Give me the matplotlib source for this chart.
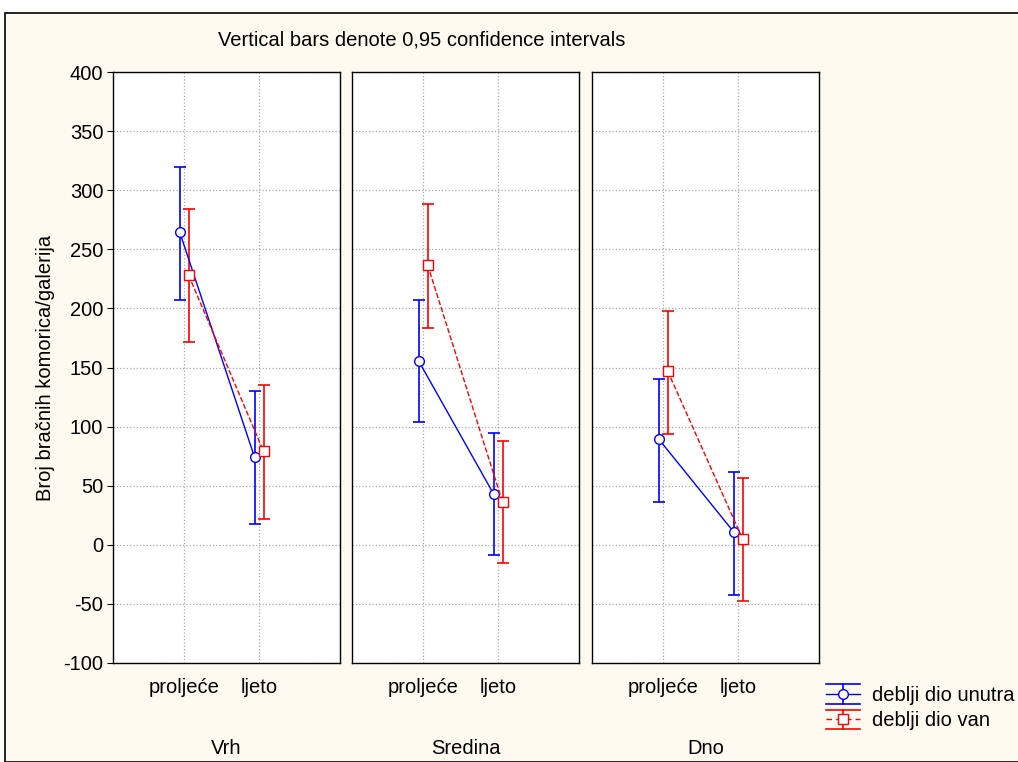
import matplotlib.pyplot as plt
from matplotlib.patches import Rectangle
from matplotlib.lines import Line2D
from matplotlib.legend_handler import HandlerBase
import numpy as np

plt.rcParams['font.family'] = ['Liberation Sans', 'DejaVu Sans']
plt.rcParams['axes.unicode_minus'] = False

categories = ['proljeće', 'ljeto']
groups = ['Vrh', 'Sredina', 'Dno']
series = ['deblji dio unutra', 'deblji dio van']

# means and 0.95 CI bounds, per group: [proljece, ljeto]
unutra_mean = [[264.6, 74.0], [155.5, 43.0], [89.5, 11.0]]
unutra_low = [[207.0, 17.6], [104.0, -8.6], [36.0, -42.5]]
unutra_high = [[319.6, 130.0], [207.0, 94.5], [140.5, 62.0]]

van_mean = [[228.0, 79.0], [236.7, 36.0], [147.0, 5.0]]
van_low = [[171.6, 22.0], [183.0, -15.4], [94.0, -47.5]]
van_high = [[284.0, 135.0], [288.0, 88.0], [198.0, 56.5]]

FS = 14.5


class ErrHandle(HandlerBase):
    # legend key like statistica: line + marker + caps spanning the key
    def __init__(self, color, ls, marker):
        super().__init__()
        self.color, self.ls, self.marker = color, ls, marker

    def create_artists(self, legend, orig_handle, xdescent, ydescent, width, height, fontsize, trans):
        cy = height / 2 - ydescent
        x0, x1 = -xdescent, width - xdescent
        cx = (x0 + x1) / 2
        d = 7.0
        arts = [
            Line2D([x0, x1], [cy, cy], color=self.color, ls=self.ls, lw=1),
            Line2D([cx, cx], [cy - d, cy + d], color=self.color, lw=1.2),
            Line2D([x0, x1], [cy + d, cy + d], color=self.color, lw=1.2),
            Line2D([x0, x1], [cy - d, cy - d], color=self.color, lw=1.2),
            Line2D([cx], [cy], marker=self.marker, ms=7, mfc='white', mec=self.color, ls=''),
        ]
        for a in arts:
            a.set_transform(trans)
        return arts


fig = plt.figure(figsize=(10.18, 7.62), dpi=100)
fig.patch.set_facecolor('white')
fig.patches.append(Rectangle((5 / 1018, 0), 1.1, (762 - 13) / 762, transform=fig.transFigure,
                             facecolor='#fffaf0', edgecolor='black', linewidth=1.2, zorder=-1))

W, H = 1018, 762
lefts = [113, 352, 592]
pw = 227
top, bottom = 72, 663
x = np.arange(len(categories))
off = 0.06

for i, g in enumerate(groups):
    ax = fig.add_axes([lefts[i] / W, 1 - bottom / H, pw / W, (bottom - top) / H])
    ax.set_facecolor('white')
    m = np.array(unutra_mean[i])
    ax.errorbar(x - off, m, yerr=[m - np.array(unutra_low[i]), np.array(unutra_high[i]) - m],
                color='blue', lw=1, marker='o', ms=7, mfc='white', mec='blue',
                capsize=4, elinewidth=1.2, capthick=1.2, zorder=3)
    m = np.array(van_mean[i])
    ax.errorbar(x + off, m, yerr=[m - np.array(van_low[i]), np.array(van_high[i]) - m],
                color='red', lw=1, ls='--', marker='s', ms=7, mfc='white', mec='red',
                capsize=4, elinewidth=1.2, capthick=1.2, zorder=3)
    ax.set_xlim(-0.95, 2.08)
    ax.set_ylim(-100, 400)
    ax.set_yticks(np.arange(-100, 401, 50))
    ax.set_xticks(x)
    ax.set_xticklabels(categories, fontsize=FS)
    ax.tick_params(axis='x', length=0, pad=11)
    ax.grid(True, color='#aaaaaa', linestyle=':', linewidth=0.9)
    ax.set_axisbelow(True)
    if i == 0:
        ax.tick_params(axis='y', labelsize=FS, length=4, direction='out', pad=3)
        ax.set_ylabel('Broj bračnih komorica/galerija', fontsize=FS, labelpad=6)
    else:
        ax.tick_params(axis='y', length=0, labelleft=False)
    for s in ax.spines.values():
        s.set_linewidth(1)
    fig.text((lefts[i] + pw / 2) / W, 1 - 748 / H, g, ha='center', va='center', fontsize=FS)

fig.text(422 / W, 1 - 40 / H, 'Vertical bars denote 0,95 confidence intervals',
         ha='center', va='center', fontsize=FS)

h1, h2 = object(), object()
fig.legend(handles=[h1, h2], labels=series,
           handler_map={h1: ErrHandle('blue', '-', 'o'), h2: ErrHandle('red', (0, (4, 3)), 's')},
           loc='upper left', bbox_to_anchor=(826 / W, 1 - 686 / H), frameon=False,
           fontsize=FS, handlelength=1.7, handletextpad=0.6, borderaxespad=0,
           borderpad=0, labelspacing=0.32)

fig.savefig('out.png', dpi=100, facecolor=fig.get_facecolor())
